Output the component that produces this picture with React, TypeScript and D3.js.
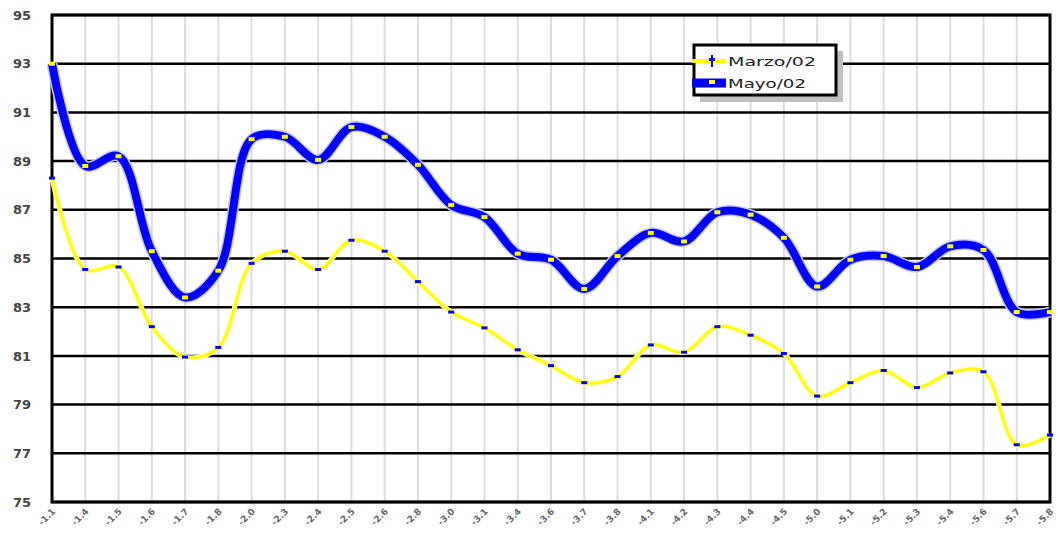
import React from "react";
import * as d3 from "d3";

// x categories (rotated labels under the axis)
const categories = [
  "1.1", "1.4", "1.5", "1.6", "1.7", "1.8", "2.0", "2.3", "2.4", "2.5", "2.6",
  "2.8", "3.0", "3.1", "3.4", "3.6", "3.7", "3.8", "4.1", "4.2", "4.3", "4.4",
  "4.5", "5.0", "5.1", "5.2", "5.3", "5.4", "5.6", "5.7", "5.8",
];

const marzo = [
  88.3, 84.55, 84.65, 82.2, 80.95, 81.35, 84.8, 85.3, 84.55, 85.75, 85.3,
  84.05, 82.8, 82.15, 81.25, 80.6, 79.9, 80.15, 81.45, 81.15, 82.2, 81.85,
  81.1, 79.35, 79.9, 80.4, 79.7, 80.3, 80.35, 77.35, 77.75,
];

const mayo = [
  93.0, 88.8, 89.2, 85.3, 83.4, 84.5, 89.9, 90.0, 89.05, 90.4, 90.0,
  88.85, 87.2, 86.7, 85.2, 84.95, 83.75, 85.1, 86.05, 85.7, 86.9, 86.8,
  85.85, 83.85, 84.95, 85.1, 84.65, 85.5, 85.35, 82.8, 82.8,
];

const yTicks = [75, 77, 79, 81, 83, 85, 87, 89, 91, 93, 95];
const seriesNames = ["Marzo/02", "Mayo/02"];

const W = 1058, H = 538;
const left = 52, right = 1050, top = 15, bottom = 502;

export default function App() {
  const x = d3.scalePoint<string>().domain(categories).range([left, right]);
  const y = d3.scaleLinear().domain([75, 95]).range([bottom, top]);

  const line = d3
    .line<number>()
    .x((_, i) => x(categories[i]) as number)
    .y((d) => y(d))
    .curve(d3.curveCatmullRom.alpha(0.5));

  const marzoPath = line(marzo) || "";
  const mayoPath = line(mayo) || "";

  return (
    <svg width={W} height={H} style={{ position: "absolute", left: 0, top: 0, background: "#fff" }}>
      {/* vertical light grid */}
      {categories.map((c) => (
        <line key={"v" + c} x1={x(c)} x2={x(c)} y1={top} y2={bottom} stroke="#dcdcdc" strokeWidth={2} />
      ))}
      {/* horizontal grid */}
      {yTicks.map((t) => (
        <line key={"h" + t} x1={left} x2={right} y1={y(t)} y2={y(t)} stroke="#000" strokeWidth={2.5} />
      ))}
      {/* frame */}
      <rect x={left} y={top} width={right - left} height={bottom - top} fill="none" stroke="#000" strokeWidth={3} />

      {/* y labels */}
      {yTicks.map((t) => (
        <text key={"yl" + t} x={31} y={y(t)} dy="0.36em" textAnchor="end"
          fontFamily="DejaVu Sans" fontWeight="bold" fontSize={13} fill="#444">
          {t}
        </text>
      ))}

      {/* x labels */}
      {categories.map((c) => (
        <text key={"xl" + c} transform={`translate(${(x(c) as number) + 4},${512}) rotate(-45)`}
          textAnchor="end" fontFamily="DejaVu Sans" fontWeight="bold" fontSize={9} fill="#666">
          {"-" + c}
        </text>
      ))}

      {/* Marzo/02 line */}
      <path d={marzoPath} fill="none" stroke="#ffffc8" strokeWidth={5} />
      <path d={marzoPath} fill="none" stroke="#ffff00" strokeWidth={3} />
      {/* Mayo/02 line */}
      <path d={mayoPath} fill="none" stroke="#c8c8ff" strokeWidth={11} />
      <path d={mayoPath} fill="none" stroke="#0000ff" strokeWidth={8} />

      {/* markers */}
      {marzo.map((v, i) => (
        <rect key={"mm" + i} x={(x(categories[i]) as number) - 3} y={y(v) - 1.5} width={6} height={3} fill="#0000ff" />
      ))}
      {mayo.map((v, i) => (
        <rect key={"my" + i} x={(x(categories[i]) as number) - 3} y={y(v) - 2} width={6} height={4} fill="#ffff00" />
      ))}

      {/* legend */}
      <g>
        <rect x={700} y={51} width={143} height={51} fill="#c0c0c0" />
        <rect x={694} y={45} width={142} height={50} fill="#fff" stroke="#000" strokeWidth={3} />
        <line x1={692} x2={726} y1={61} y2={61} stroke="#ffff00" strokeWidth={4} />
        <rect x={709} y={58} width={6} height={3} fill="#0000ff" />
        <rect x={711} y={55} width={2} height={12} fill="#0000ff" />
        <text x={728} y={61} dy="0.36em" fontFamily="DejaVu Sans" fontSize={13} fill="#222"
          textLength={88} lengthAdjust="spacingAndGlyphs">
          {seriesNames[0]}
        </text>
        <line x1={692} x2={726} y1={83} y2={83} stroke="#0000ff" strokeWidth={9} />
        <rect x={709} y={80} width={6} height={4} fill="#ffff00" />
        <text x={728} y={83} dy="0.36em" fontFamily="DejaVu Sans" fontSize={13} fill="#222"
          textLength={78} lengthAdjust="spacingAndGlyphs">
          {seriesNames[1]}
        </text>
      </g>
    </svg>
  );
}
